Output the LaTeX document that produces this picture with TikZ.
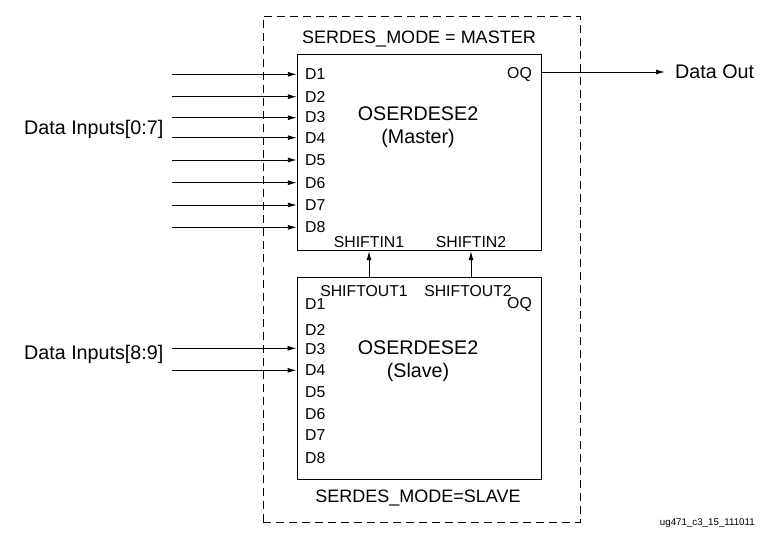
\documentclass[tikz,border=0pt]{standalone}
\usepackage{fontspec}
\setmainfont{Liberation Sans}
\usetikzlibrary{arrows.meta}
\begin{document}
\begin{tikzpicture}[x=1pt, y=-1pt,
		block/.style={draw, line width=1.4pt, inner sep=0pt, minimum width=244pt},
		pin/.style={inner sep=0pt, font=\fontsize{15.8}{18}\selectfont},
		label/.style={inner sep=0pt, font=\fontsize{19.7}{23}\selectfont},
		mode/.style={inner sep=0pt, font=\fontsize{18}{21}\selectfont},
		arrow/.style={line width=0.9pt, -{Latex[length=9pt, width=5pt]}}]
		\useasboundingbox (0,0) rectangle (768,543);
		% Boundary and blocks
		\node[draw, dashed, dash pattern=on 8pt off 5pt, line width=0.8pt, inner sep=0pt,
			minimum width=317pt, minimum height=506pt] (Group) at (421.5,269) {};
		\node[block, minimum height=196pt] (Master) at (419.5,152.5) {};
		\node[block, minimum height=202pt] (Slave) at (419.2,378.2) {};
		\node[mode] (Mode master) at (419,39) {SERDES\_MODE = MASTER};
		\node[mode] (Mode slave) at (418,498) {SERDES\_MODE=SLAVE};
		\node[label, align=center] (Name master) at (418,127.5) {OSERDESE2\\(Master)};
		\node[label, align=center] (Name slave) at (418,361.5) {OSERDESE2\\(Slave)};
		% Master pins
		\node[pin, anchor=west] (M1) at (305,74.5) {D1};
		\node[pin, anchor=west] (M2) at (305,96.5) {D2};
		\node[pin, anchor=west] (M3) at (305,117.5) {D3};
		\node[pin, anchor=west] (M4) at (305,138) {D4};
		\node[pin, anchor=west] (M5) at (305,160) {D5};
		\node[pin, anchor=west] (M6) at (305,183) {D6};
		\node[pin, anchor=west] (M7) at (305,205) {D7};
		\node[pin, anchor=west] (M8) at (305,227) {D8};
		\node[pin, anchor=east] (MOQ) at (532,74.5) {OQ};
		\node[pin] (SI1) at (369,242.5) {SHIFTIN1};
		\node[pin] (SI2) at (471,242.5) {SHIFTIN2};
		% Slave pins
		\node[pin] (SO1) at (364,291.5) {SHIFTOUT1};
		\node[pin] (SO2) at (468,291.5) {SHIFTOUT2};
		\node[pin, anchor=west] (S1) at (305,304.5) {D1};
		\node[pin, anchor=west] (S2) at (305,329.5) {D2};
		\node[pin, anchor=west] (S3) at (305,349.5) {D3};
		\node[pin, anchor=west] (S4) at (305,370.5) {D4};
		\node[pin, anchor=west] (S5) at (305,392.5) {D5};
		\node[pin, anchor=west] (S6) at (305,414.5) {D6};
		\node[pin, anchor=west] (S7) at (305,435.5) {D7};
		\node[pin, anchor=west] (S8) at (305,458) {D8};
		\node[pin, anchor=east] (SOQ) at (532,304.5) {OQ};
		% Outside labels
		\node[label, anchor=west] (Inputs low) at (24,129) {Data Inputs[0:7]};
		\node[label, anchor=west] (Inputs high) at (24,354) {Data Inputs[8:9]};
		\node[label, anchor=west, inner xsep=10pt] (Data out) at (665,72) {Data Out};
		\node[inner sep=0pt, anchor=east, font=\fontsize{9.75}{11}\selectfont] (Fig id) at (755,523) {ug471\_c3\_15\_111011};
		% Input start points
		\coordinate (in1) at (172,74.3);
		\coordinate (in2) at (172,96.7);
		\coordinate (in3) at (172,117.7);
		\coordinate (in4) at (172,137.7);
		\coordinate (in5) at (172,160);
		\coordinate (in6) at (172,182.7);
		\coordinate (in7) at (172,205);
		\coordinate (in8) at (172,227.3);
		\coordinate (in9) at (172,348.3);
		\coordinate (in10) at (172,370.3);
		% Arrows
		\draw[arrow] (in1) -- (in1 -| Master.west);
		\draw[arrow] (in2) -- (in2 -| Master.west);
		\draw[arrow] (in3) -- (in3 -| Master.west);
		\draw[arrow] (in4) -- (in4 -| Master.west);
		\draw[arrow] (in5) -- (in5 -| Master.west);
		\draw[arrow] (in6) -- (in6 -| Master.west);
		\draw[arrow] (in7) -- (in7 -| Master.west);
		\draw[arrow] (in8) -- (in8 -| Master.west);
		\draw[arrow] (in9) -- (in9 -| Slave.west);
		\draw[arrow] (in10) -- (in10 -| Slave.west);
		\draw[arrow] (Master.east |- Data out) -- (Data out.west);
		\draw[arrow] (Slave.north -| SI1) -- (Master.south -| SI1);
		\draw[arrow] (Slave.north -| SI2) -- (Master.south -| SI2);
	\end{tikzpicture}
\end{document}
